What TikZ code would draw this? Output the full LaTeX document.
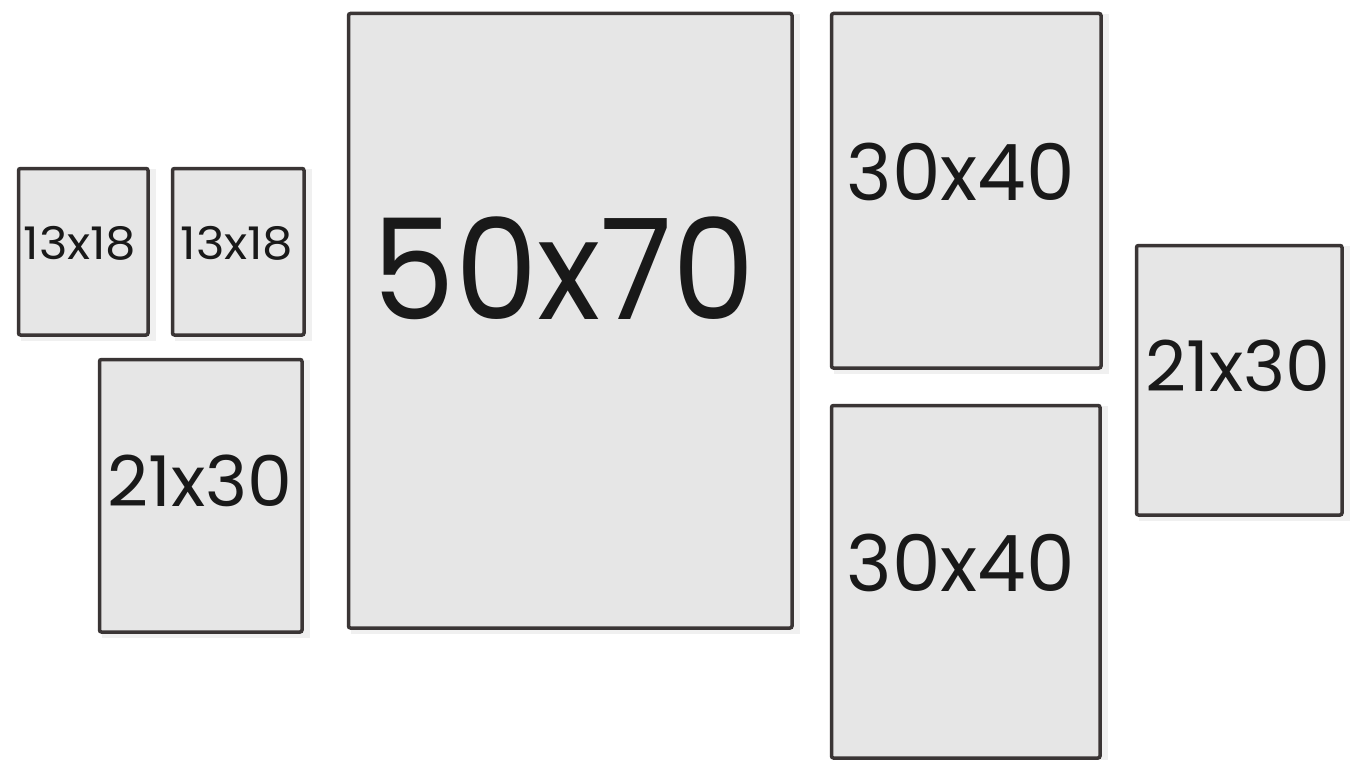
\documentclass[tikz,border=0pt]{standalone}
\usepackage{fontspec}
\setmainfont{Poppins}
\begin{document}
\begin{tikzpicture}[x=1pt,y=-1pt,
  frame/.style={draw=framecol, line width=3.5pt, fill=paper, rounded corners=2pt, inner sep=0pt, anchor=north west},
  size/.style={text=black!90, inner sep=0pt},
]
\definecolor{framecol}{HTML}{3A3535}
\definecolor{paper}{HTML}{E6E6E6}
\useasboundingbox[fill=white] (0,0) rectangle (1360,760);
% shadows
\foreach \a/\b/\c/\d in {15/165/148/335, 169/165/304/335, 96/356/302/632, 345/10/792/628, 828/10/1101/368, 828/402/1100/758, 1133/242/1342/515}{
  \fill[black, opacity=0.06] (\a+6,\b+4) rectangle (\c+8,\d+6);
}
% frames: outer box minus line width
\node[frame, minimum width=129.5pt, minimum height=166.5pt] (f1) at (16.75,166.75) {};
\node[frame, minimum width=131.5pt, minimum height=166.5pt] (f2) at (170.75,166.75) {};
\node[frame, minimum width=202.5pt, minimum height=272.5pt] (f3) at (97.75,357.75) {};
\node[frame, minimum width=443.5pt, minimum height=614.5pt] (f4) at (346.75,11.75) {};
\node[frame, minimum width=269.5pt, minimum height=354.5pt] (f5) at (829.75,11.75) {};
\node[frame, minimum width=268.5pt, minimum height=352.5pt] (f6) at (829.75,403.75) {};
\node[frame, minimum width=205.5pt, minimum height=269.5pt] (f7) at (1134.75,243.75) {};
% labels
\node[size, xscale=1.07, font=\fontsize{45}{45}\selectfont] (t1) at (80,243) {13x18};
\node[size, xscale=1.07, font=\fontsize{45}{45}\selectfont] (t2) at (237,243) {13x18};
\node[size, xscale=1.02, font=\fontsize{70}{70}\selectfont] (t3) at (200,481) {21x30};
\node[size, xscale=0.94, font=\fontsize{140}{140}\selectfont] (t4) at (564,268) {50x70};
\node[size, xscale=0.99, font=\fontsize{78}{78}\selectfont] (t5) at (961,172) {30x40};
\node[size, xscale=0.99, font=\fontsize{78}{78}\selectfont] (t6) at (961,563) {30x40};
\node[size, xscale=1.02, font=\fontsize{70}{70}\selectfont] (t7) at (1238,366) {21x30};
\end{tikzpicture}
\end{document}
